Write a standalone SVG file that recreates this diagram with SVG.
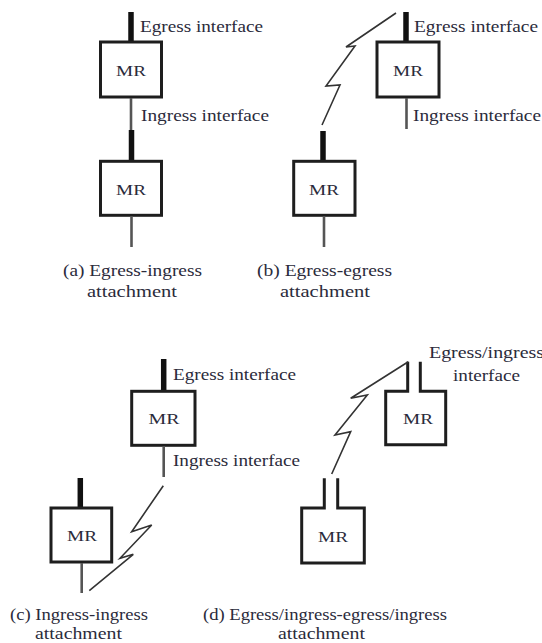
<svg xmlns="http://www.w3.org/2000/svg" width="542" height="643" viewBox="0 0 542 643">
  <style>
    .box { fill: #ffffff; stroke: #1e1e1e; stroke-width: 3; }
    .egress { stroke: #111111; stroke-width: 5.5; fill: none; }
    .ingress { stroke: #555555; stroke-width: 2.6; fill: none; }
    .dual { stroke: #1e1e1e; stroke-width: 3; fill: none; }
    .bolt { stroke: #333333; stroke-width: 1.6; fill: none; stroke-linejoin: miter; }
    text { font-family: "Liberation Serif", "Times New Roman", serif; fill: #2b2b3b; }
    .lbl { font-size: 16px; }
    .mr { font-size: 15px; text-anchor: middle; }
    .cap { font-size: 16px; }
  </style>

  <!-- (a) Egress-ingress attachment -->
  <g id="a-mr-top">
    <line class="egress" x1="131" y1="12" x2="131" y2="42"/>
    <rect class="box" x="100.5" y="42" width="61" height="55"/>
    <text class="mr" x="131" y="76" textLength="30" lengthAdjust="spacingAndGlyphs">MR</text>
    <line class="ingress" x1="131" y1="98" x2="131" y2="131"/>
    <text class="lbl" x="140" y="32" textLength="123" lengthAdjust="spacingAndGlyphs">Egress interface</text>
    <text class="lbl" x="141" y="121" textLength="128" lengthAdjust="spacingAndGlyphs">Ingress interface</text>
  </g>
  <g id="a-mr-bottom">
    <line class="egress" x1="131.5" y1="130" x2="131.5" y2="161"/>
    <rect class="box" x="100.5" y="161.3" width="61" height="54"/>
    <text class="mr" x="131" y="195" textLength="30" lengthAdjust="spacingAndGlyphs">MR</text>
    <line class="ingress" x1="131.5" y1="216" x2="131.5" y2="247"/>
  </g>
  <g id="a-caption">
    <text class="cap" x="63" y="276" textLength="139" lengthAdjust="spacingAndGlyphs">(a) Egress-ingress</text>
    <text class="cap" x="87" y="297" textLength="90" lengthAdjust="spacingAndGlyphs">attachment</text>
  </g>

  <!-- (b) Egress-egress attachment -->
  <g id="b-mr-top">
    <line class="egress" x1="406" y1="12" x2="406" y2="42"/>
    <rect class="box" x="377" y="42" width="62" height="55"/>
    <text class="mr" x="408" y="76" textLength="30" lengthAdjust="spacingAndGlyphs">MR</text>
    <line class="ingress" x1="406.5" y1="98" x2="406.5" y2="129"/>
    <text class="lbl" x="414" y="32" textLength="124" lengthAdjust="spacingAndGlyphs">Egress interface</text>
    <text class="lbl" x="413" y="121" textLength="128" lengthAdjust="spacingAndGlyphs">Ingress interface</text>
  </g>
  <g id="b-mr-bottom">
    <line class="egress" x1="323" y1="131" x2="323" y2="161"/>
    <rect class="box" x="293.7" y="161.3" width="61.3" height="54"/>
    <text class="mr" x="324" y="195" textLength="30" lengthAdjust="spacingAndGlyphs">MR</text>
    <line class="ingress" x1="324" y1="216" x2="324" y2="247"/>
  </g>
  <g id="b-caption">
    <text class="cap" x="257" y="276" textLength="135" lengthAdjust="spacingAndGlyphs">(b) Egress-egress</text>
    <text class="cap" x="280" y="297" textLength="90" lengthAdjust="spacingAndGlyphs">attachment</text>
  </g>

  <!-- (c) Ingress-ingress attachment -->
  <g id="c-mr-top">
    <line class="egress" x1="163.7" y1="359" x2="163.7" y2="391"/>
    <rect class="box" x="131.7" y="391.3" width="63.3" height="54"/>
    <text class="mr" x="164" y="424" textLength="31" lengthAdjust="spacingAndGlyphs">MR</text>
    <line class="ingress" x1="163.7" y1="446" x2="163.7" y2="477"/>
    <text class="lbl" x="173" y="380" textLength="123" lengthAdjust="spacingAndGlyphs">Egress interface</text>
    <text class="lbl" x="173" y="466" textLength="127" lengthAdjust="spacingAndGlyphs">Ingress interface</text>
  </g>
  <g id="c-mr-bottom">
    <line class="egress" x1="80.3" y1="478" x2="80.3" y2="508"/>
    <rect class="box" x="51" y="508" width="60.7" height="54"/>
    <text class="mr" x="82" y="541" textLength="30" lengthAdjust="spacingAndGlyphs">MR</text>
    <line class="ingress" x1="81.7" y1="563" x2="81.7" y2="593"/>
  </g>
  <g id="c-caption">
    <text class="cap" x="10" y="620" textLength="138" lengthAdjust="spacingAndGlyphs">(c) Ingress-ingress</text>
    <text class="cap" x="35" y="639" textLength="87" lengthAdjust="spacingAndGlyphs">attachment</text>
  </g>

  <!-- (d) Egress/ingress-egress/ingress attachment -->
  <g id="d-mr-top">
    <rect x="385.7" y="391.3" width="60" height="53.4" fill="#ffffff"/>
    <path class="dual" d="M407.7 361.7 V391.3 H385.7 V444.7 H445.7 V391.3 H420.3 V361.7"/>
    <text class="mr" x="418" y="424" textLength="30" lengthAdjust="spacingAndGlyphs">MR</text>
    <text class="lbl" x="429" y="358" textLength="115" lengthAdjust="spacingAndGlyphs">Egress/ingress</text>
    <text class="lbl" x="453" y="381" textLength="67" lengthAdjust="spacingAndGlyphs">interface</text>
  </g>
  <g id="d-mr-bottom">
    <rect x="301.7" y="508" width="62.6" height="55" fill="#ffffff"/>
    <path class="dual" d="M324.3 478.3 V508 H301.7 V563 H364.3 V508 H337.7 V478.3"/>
    <text class="mr" x="333" y="542" textLength="30" lengthAdjust="spacingAndGlyphs">MR</text>
  </g>
  <g id="d-caption">
    <text class="cap" x="203" y="620" textLength="244" lengthAdjust="spacingAndGlyphs">(d) Egress/ingress-egress/ingress</text>
    <text class="cap" x="278" y="639" textLength="87" lengthAdjust="spacingAndGlyphs">attachment</text>
  </g>

  <!-- wireless links (lightning bolts) -->
  <g id="connectors">
    <polyline class="bolt" points="396,13 346,47 355,46 326,86 340,85 322,125"/>
    <polyline class="bolt" points="163.3,485.7 131.7,531.7 151.7,525 120,558.3 133.3,554.3 89.3,590.7"/>
    <polyline class="bolt" points="408.3,361.7 350.7,398.3 367.3,395 335,435 350.7,431.7 331.7,474"/>
  </g>
</svg>
